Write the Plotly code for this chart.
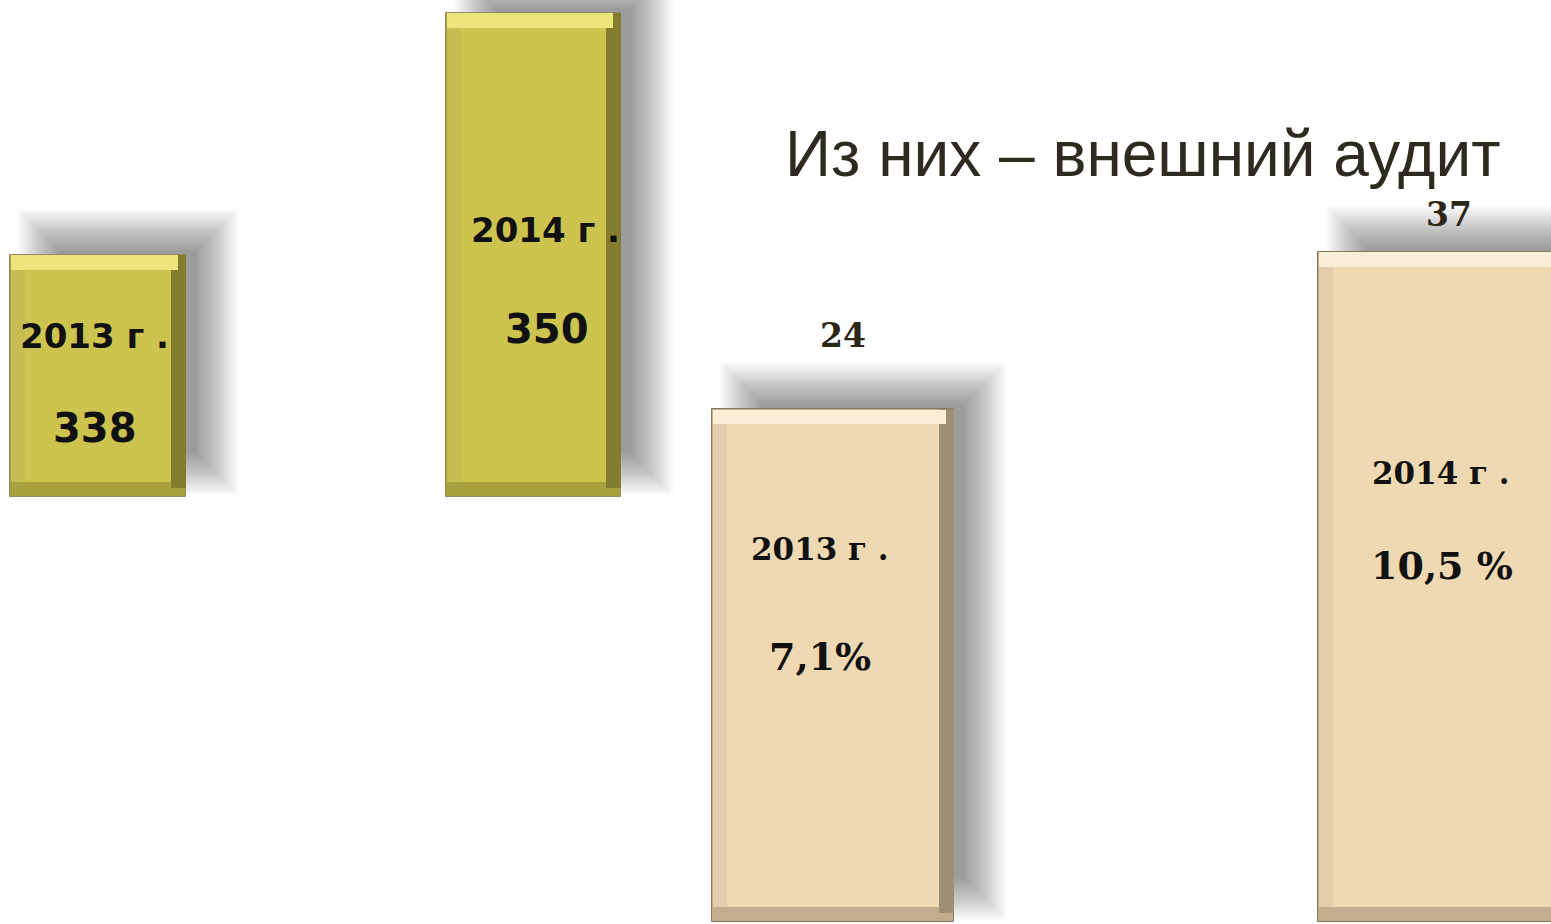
import plotly.graph_objects as go

# ---------------- data ----------------
years = ["2013 г .", "2014 г ."]
total_checks = [338, 350]
total_labels = ["338", "350"]
external_audit = [24, 37]
external_labels = ["24", "37"]
external_share = ["7,1%", "10,5 %"]
title_text = "Из них – внешний аудит"

# ---------------- layout constants ----------------
W, H = 1551, 924
OL_RANGE = [304.83, 350.64]   # truncated axis for totals
OL_BASE = 326.0
BE_RANGE = [-18.63, 57.86]    # axis for external audit
BE_BASE = -18.45

ol_cx = [98.0, 533.5]
ol_w = [176.0, 175.0]
be_cx = [833.0, 1453.0]
be_w = [242.0, 270.0]

ol_k = H / (OL_RANGE[1] - OL_RANGE[0])   # px per unit
be_k = H / (BE_RANGE[1] - BE_RANGE[0])

OLIVE = dict(face="#cdc450", top="#eee47e", left="#c6be52", bottom="#a9a13d",
             right="#847d2e", outline="#8e8a62")
BEIGE = dict(face="#eed9b3", top="#faeed6", left="#e2ceaa", bottom="#c2ae8c",
             right="#a08f74", outline="#857863")

fig = go.Figure()


def rect_bar(cx, left_off, widths, bottoms, tops, color, yaxis, opacity=1.0, line=None):
    fig.add_trace(go.Bar(
        x=cx, y=[t - b for t, b in zip(tops, bottoms)], base=bottoms,
        offset=left_off, width=widths, yaxis=yaxis,
        marker=dict(color=color, opacity=opacity,
                    line=dict(width=1 if line else 0, color=line or color)),
        hoverinfo="skip", showlegend=False))


def bevel_bars(cx, widths, values, base, k, pal, yaxis):
    n = len(values)
    # blurred drop shadow (offset right & up)
    dx, dy = 30, 24
    steps = 22
    for i in range(steps):
        e = -20 + i * 2.0
        rect_bar([c + dx for c in cx], [-w / 2 - e for w in widths], [w + 2 * e for w in widths],
                 [base + (dy - e) / k] * n, [v + (dy + e) / k for v in values],
                 "black", yaxis, opacity=0.021)
    b = 15.0  # bevel size in px
    bu = b / k
    # outer body (bottom tone)
    rect_bar(cx, [-w / 2 for w in widths], widths, [base] * n, values, pal["bottom"], yaxis,
             line=pal["outline"])
    # right bevel
    rect_bar(cx, [w / 2 - b for w in widths], [b] * n, [base + bu * 0.6] * n, values,
             pal["right"], yaxis)
    # left bevel region
    rect_bar(cx, [-w / 2 + 0.5 for w in widths], [w - b - 0.5 for w in widths],
             [base + bu] * n, [v - 0.5 / k for v in values], pal["left"], yaxis)
    # top bevel
    rect_bar(cx, [-w / 2 + 0.5 for w in widths], [w - b * 0.6 for w in widths],
             [v - bu for v in values], [v - 0.5 / k for v in values], pal["top"], yaxis)
    # face
    rect_bar(cx, [-w / 2 + b for w in widths], [w - 2 * b for w in widths],
             [base + bu] * n, [v - bu for v in values], pal["face"], yaxis)


bevel_bars(ol_cx, ol_w, total_checks, OL_BASE, ol_k, OLIVE, "y")
bevel_bars(be_cx, be_w, external_audit, BE_BASE, be_k, BEIGE, "y2")

annotations = []
sans = "DejaVu Sans"
serif = "DejaVu Serif"

# labels inside olive bars (offsets in px below bar top)
ol_year_dy = [-81, -217]
ol_val_dy = [-173, -316]
ol_dx = [-4, 12]
for i in range(2):
    annotations.append(dict(x=ol_cx[i], y=total_checks[i], xref="x", yref="y",
                            text=f"<b>{years[i]}</b>", showarrow=False,
                            xshift=ol_dx[i], yshift=ol_year_dy[i],
                            font=dict(family=sans, size=34, color="#111111")))
    annotations.append(dict(x=ol_cx[i], y=total_checks[i], xref="x", yref="y",
                            text=f"<b>{total_labels[i]}</b>", showarrow=False,
                            xshift=ol_dx[i] + 1, yshift=ol_val_dy[i],
                            font=dict(family=sans, size=40, color="#111111")))

# labels inside / above beige bars
be_year_dy = [-140, -221]
be_val_dy = [-247, -314]
be_dx = [-13, -12]
be_val_dx = [-13, -11]
be_top_dx = [10, -4]
be_top_dy = [74, 37]
for i in range(2):
    annotations.append(dict(x=be_cx[i], y=external_audit[i], xref="x", yref="y2",
                            text=f"<b>{years[i]}</b>", showarrow=False,
                            xshift=be_dx[i], yshift=be_year_dy[i],
                            font=dict(family=serif, size=31, color="#111111")))
    annotations.append(dict(x=be_cx[i], y=external_audit[i], xref="x", yref="y2",
                            text=f"<b>{external_share[i]}</b>", showarrow=False,
                            xshift=be_val_dx[i], yshift=be_val_dy[i],
                            font=dict(family=serif, size=38, color="#111111")))
    annotations.append(dict(x=be_cx[i], y=external_audit[i], xref="x", yref="y2",
                            text=f"<b>{external_labels[i]}</b>", showarrow=False,
                            xshift=be_top_dx[i], yshift=be_top_dy[i],
                            font=dict(family=serif, size=33, color="#2c2616")))

annotations.append(dict(x=1142 / W, y=1 - 154 / H, xref="paper", yref="paper",
                        text=title_text, showarrow=False, xanchor="center", yanchor="middle",
                        font=dict(family="Liberation Sans", size=64, color="#2d2b1f")))

fig.update_layout(
    width=W, height=H, margin=dict(l=0, r=0, t=0, b=0),
    paper_bgcolor="white", plot_bgcolor="white",
    barmode="overlay", bargap=0,
    xaxis=dict(range=[0, W], visible=False, fixedrange=True),
    yaxis=dict(range=OL_RANGE, visible=False, fixedrange=True),
    yaxis2=dict(range=BE_RANGE, visible=False, overlaying="y", fixedrange=True),
    annotations=annotations,
    showlegend=False,
)

fig.write_html("out.html", config={"displayModeBar": False},
               post_script="document.body.style.margin='0';document.body.style.overflow='hidden';")
